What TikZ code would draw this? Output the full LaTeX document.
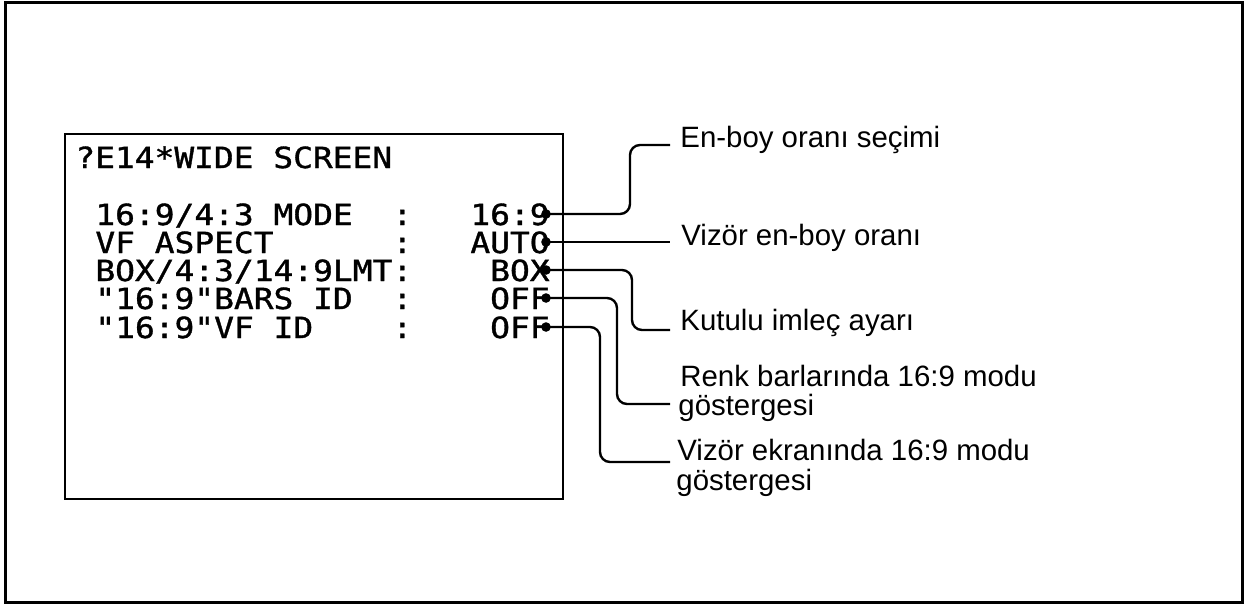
\documentclass[tikz,border=0pt]{standalone}
\usepackage{fontspec}
\setmainfont{Liberation Sans}
\newfontfamily\osdfont[FakeStretch=1.13,FakeBold=1.2]{DejaVu Sans Mono}

\tikzset{
  osd/.style={anchor=base west,inner sep=0pt,font=\osdfont\fontsize{14.55}{17}\selectfont},
  osdval/.style={osd,anchor=base east},
  callout/.style={anchor=base west,inner sep=0pt,font=\fontsize{14.7}{17}\selectfont},
  leader/.style={line width=1.2pt,rounded corners=5pt},
}

\begin{document}
\begin{tikzpicture}[x=0.5pt,y=-0.5pt]
    \useasboundingbox (0,0) rectangle (1252,607);
    \draw[line width=1.5pt] (5,2) rectangle (1242,602);
    \draw[line width=1.2pt] (65,134) rectangle (563,499);

    \node[osd] (title) at (75,168) {?E14*WIDE SCREEN};

    \node[osd] (k1) at (95,225) {16:9/4:3 MODE};
    \node[osd] (k2) at (95,253) {VF ASPECT};
    \node[osd] (k3) at (95,281) {BOX/4:3/14:9LMT};
    \node[osd] (k4) at (95,309) {"16:9"BARS ID};
    \node[osd] (k5) at (95,338) {"16:9"VF ID};

    \foreach \y [count=\i] in {225,253,281,309,338}
        \node[osd] (s\i) at (392,\y) {:};

    \node[osdval] (v1) at (550,225) {16:9};
    \node[osdval] (v2) at (550,253) {AUTO};
    \node[osdval] (v3) at (550,281) {BOX};
    \node[osdval] (v4) at (550,309) {OFF};
    \node[osdval] (v5) at (550,338) {OFF};

    \node[callout] (l1) at (680,147) {En-boy oranı seçimi};
    \node[callout] (l2) at (681,245) {Vizör en-boy oranı};
    \node[callout] (l3) at (680,330) {Kutulu imleç ayarı};
    \node[callout] (l4) at (680,386) {Renk barlarında 16:9 modu};
    \node[callout] (l4b) at (678,415) {göstergesi};
    \node[callout] (l5) at (677,460) {Vizör ekranında 16:9 modu};
    \node[callout] (l5b) at (676,490) {göstergesi};

    \coordinate (d1) at (546,214);
    \coordinate (d2) at (546,242);
    \coordinate (d3) at (546,270);
    \coordinate (d4) at (546,298);
    \coordinate (d5) at (546,327);

    \coordinate (b1) at (630,145);
    \coordinate (b3) at (632,330);
    \coordinate (b4) at (617,404);
    \coordinate (b5) at (600,462);

    \coordinate (e1) at (670,145);
    \coordinate (e2) at (670,242);
    \coordinate (e3) at (670,330);
    \coordinate (e4) at (670,404);
    \coordinate (e5) at (670,462);

    \draw[leader] (d1) -| (b1) -- (e1);
    \draw[leader] (d2) -- (e2);
    \draw[leader] (d3) -| (b3) -- (e3);
    \draw[leader] (d4) -| (b4) -- (e4);
    \draw[leader] (d5) -| (b5) -- (e5);

    \foreach \i in {1,...,5}
        \fill (d\i) circle (2.4pt);
\end{tikzpicture}
\end{document}
